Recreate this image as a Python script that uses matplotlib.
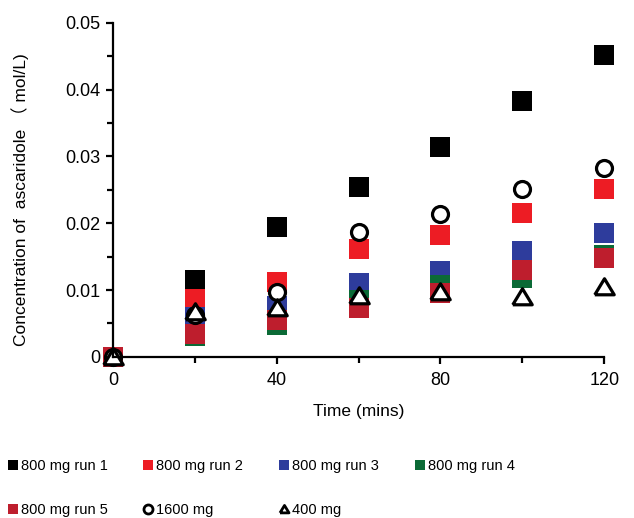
import matplotlib
matplotlib.use("Agg")
import matplotlib.pyplot as plt
from matplotlib.ticker import MultipleLocator

plt.rcParams['font.family'] = ['Liberation Sans', 'Noto Sans CJK SC', 'DejaVu Sans']

# time points (mins)
time = [0, 20, 40, 60, 80, 100, 120]

# concentration of ascaridole (mol/L)
run1 = [0, 0.0115, 0.0195, 0.0254, 0.0314, 0.0383, 0.0452]
run2 = [0, 0.0086, 0.0112, 0.0161, 0.0182, 0.0215, 0.0251]
run3 = [0, 0.0059, 0.0076, 0.0111, 0.0129, 0.0158, 0.0185]
run4 = [0, 0.0031, 0.0047, 0.0085, 0.0107, 0.0118, 0.0152]
run5 = [0, 0.0034, 0.0055, 0.0073, 0.0096, 0.0130, 0.0148]
mg1600 = [0, 0.0062, 0.0097, 0.0187, 0.0214, 0.0252, 0.0282]
mg400 = [0, 0.0067, 0.0073, 0.0091, 0.0097, 0.0089, 0.0104]

labels = ['800 mg run 1', '800 mg run 2', '800 mg run 3', '800 mg run 4',
          '800 mg run 5', '1600 mg', '400 mg']
colors = ['#000000', '#ED1C24', '#2E3C9C', '#0B6A36', '#BE1E2D']

fig = plt.figure(figsize=(6.34, 5.18), dpi=100)
ax = fig.add_axes([0.178, 0.311, 0.775, 0.645])

handles = []
for ys, c, lab in zip([run1, run2, run3, run4, run5], colors, labels[:5]):
    h, = ax.plot(time, ys, ls='none', marker='s', ms=14, mew=0,
                 color=c, label=lab, clip_on=False)
    handles.append(h)

h, = ax.plot(time, mg1600, ls='none', marker='o', ms=11.5, mew=2.3,
             mfc='white', mec='black', label=labels[5], clip_on=False)
handles.append(h)
tri = [(-1, -0.75), (1, -0.75), (0, 0.9), (-1, -0.75)]
h, = ax.plot(time, mg400, ls='none', marker=tri, ms=14, mew=2.3,
             mfc='white', mec='black', label=labels[6], clip_on=False)
handles.append(h)

ax.set_xlim(0, 120)
ax.set_ylim(0, 0.05)
ax.set_xticks([0, 40, 80, 120])
ax.set_xticklabels(['0', '40', '80', '120'])
ax.set_yticks([0, 0.01, 0.02, 0.03, 0.04, 0.05])
ax.set_yticklabels(['0', '0.01', '0.02', '0.03', '0.04', '0.05'])
ax.xaxis.set_minor_locator(MultipleLocator(20))
ax.yaxis.set_minor_locator(MultipleLocator(0.005))

for s in ['top', 'right']:
    ax.spines[s].set_visible(False)
for s in ['left', 'bottom']:
    ax.spines[s].set_linewidth(1.6)
ax.tick_params(which='both', width=1.6, labelsize=13, direction='out')
ax.tick_params(which='major', length=5)
ax.tick_params(which='minor', length=4)
ax.tick_params(axis='y', pad=4)
ax.tick_params(axis='x', pad=6)

ax.set_xlabel('Time (mins)', fontsize=12.5, labelpad=11)
ax.set_ylabel('Concentration of  ascaridole （ mol/L)', fontsize=12.5)
ax.yaxis.set_label_coords(-0.171, 0.47)

# legend: reorder so rows read run1..run4 / run5, 1600, 400
order = [0, 4, 1, 5, 2, 6, 3]
leg_handles = []
for i in order:
    src = handles[i]
    lh, = ax.plot([], [], ls='none', marker=src.get_marker(),
                  mfc=src.get_markerfacecolor(), mec=src.get_markeredgecolor(),
                  mew=0 if i < 5 else 2.0, ms=7.8 if i < 5 else 6.5)
    leg_handles.append(lh)
fig.legend(leg_handles, [labels[i] for i in order], ncol=4,
           loc='upper left', bbox_to_anchor=(0.012, 0.113),
           frameon=False, fontsize=10.5, handlelength=0.7,
           handletextpad=0.2, columnspacing=2.45, labelspacing=2.05,
           borderpad=0, borderaxespad=0)

fig.savefig('out.png', dpi=100)
